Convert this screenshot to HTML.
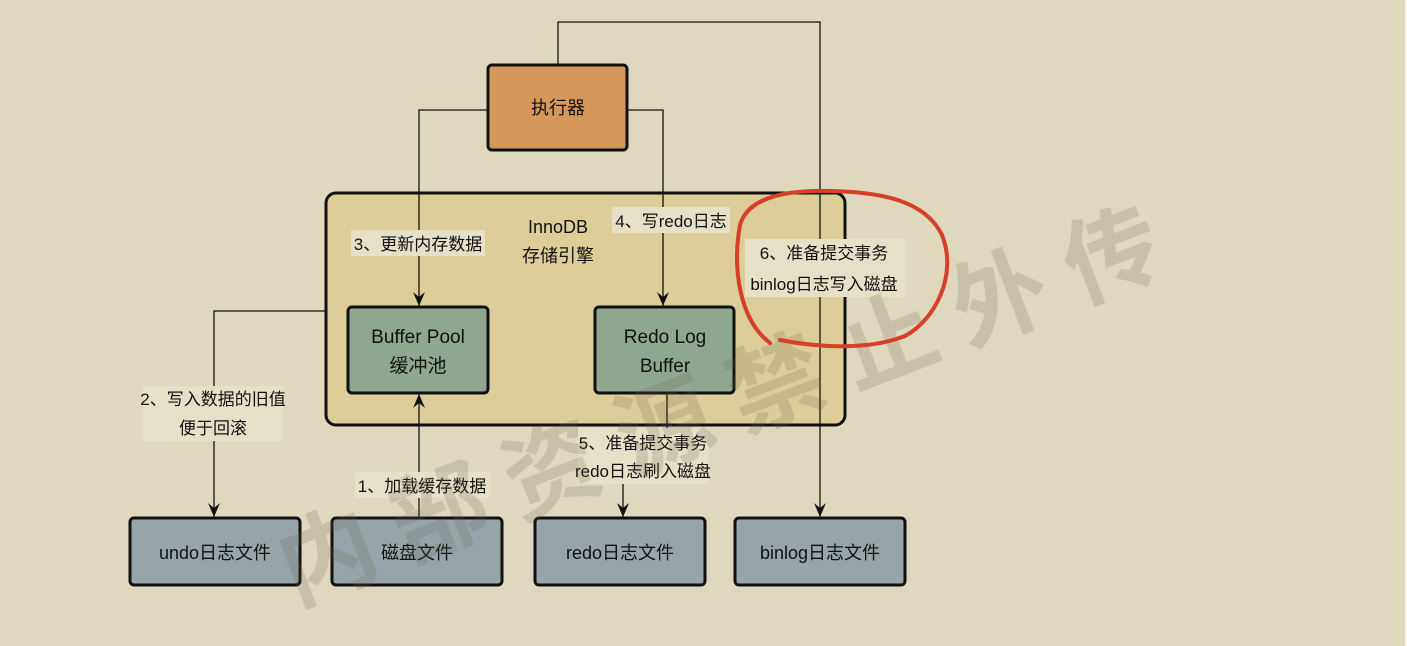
<!DOCTYPE html>
<html><head><meta charset="utf-8"><style>
html,body{margin:0;padding:0;background:#dfd7be;}
svg{display:block;}
text{font-family:"Liberation Sans","Noto Sans CJK SC",sans-serif;fill:#111;}
</style></head><body>
<svg width="1407" height="646" viewBox="0 0 1407 646" xmlns="http://www.w3.org/2000/svg">
<defs>
<marker id="a" markerWidth="14" markerHeight="12" refX="14" refY="6" orient="auto" markerUnits="userSpaceOnUse" viewBox="0 0 14 12">
<path d="M0,0 L14,6 L0,12 L5,6 Z" fill="#111"/>
</marker>
</defs>
<rect width="1407" height="646" fill="#dfd7be"/>

<!-- InnoDB -->
<rect x="326" y="193" width="519" height="232" rx="10" fill="#ddcd98" stroke="#111" stroke-width="3"/>
<text x="558" y="233" font-size="18" text-anchor="middle">InnoDB</text>
<text x="558" y="262" font-size="18" text-anchor="middle">存储引擎</text>

<!-- lines -->
<g stroke="#111" stroke-width="1.3" fill="none">
<polyline points="488,110 419,110 419,306" marker-end="url(#a)"/>
<polyline points="627,110 663,110 663,306" marker-end="url(#a)"/>
<polyline points="558,65 558,22 820,22 820,517" marker-end="url(#a)"/>
<polyline points="326,311 214,311 214,517" marker-end="url(#a)"/>
<line x1="419" y1="518" x2="419" y2="394" marker-end="url(#a)"/>
<line x1="667" y1="393" x2="667" y2="432"/>
<line x1="623" y1="484" x2="623" y2="517" marker-end="url(#a)"/>
</g>

<!-- executor -->
<rect x="488" y="65" width="139" height="85" rx="4" fill="#d5985a" stroke="#111" stroke-width="3"/>
<text x="558" y="114" font-size="18" text-anchor="middle">执行器</text>

<!-- inner boxes -->
<rect x="348" y="307" width="140" height="86" rx="4" fill="#8fa790" stroke="#111" stroke-width="3"/>
<text x="418" y="343" font-size="19" text-anchor="middle">Buffer Pool</text>
<text x="418" y="372" font-size="19" text-anchor="middle">缓冲池</text>
<rect x="595" y="307" width="139" height="86" rx="4" fill="#8fa790" stroke="#111" stroke-width="3"/>
<text x="665" y="343" font-size="19" text-anchor="middle">Redo Log</text>
<text x="665" y="372" font-size="19" text-anchor="middle">Buffer</text>

<!-- bottom boxes -->
<g fill="#97a5aa" stroke="#111" stroke-width="3">
<rect x="130" y="518" width="170" height="67" rx="4"/>
<rect x="332" y="518" width="170" height="67" rx="4"/>
<rect x="535" y="518" width="170" height="67" rx="4"/>
<rect x="735" y="518" width="170" height="67" rx="4"/>
</g>
<g font-size="18" text-anchor="middle">
<text x="215" y="559">undo日志文件</text>
<text x="417" y="559">磁盘文件</text>
<text x="620" y="559">redo日志文件</text>
<text x="820" y="559">binlog日志文件</text>
</g>

<!-- labels -->
<g fill="#e7e0c9">
<rect x="351" y="230" width="134" height="26"/>
<rect x="612" y="207" width="118" height="26"/>
<rect x="745" y="239" width="160" height="58"/>
<rect x="143" y="386" width="140" height="55"/>
<rect x="355" y="472" width="135" height="26"/>
<rect x="578" y="428" width="130" height="56"/>
</g>
<g font-size="17" text-anchor="middle">
<text x="418" y="250">3、更新内存数据</text>
<text x="671" y="227">4、写redo日志</text>
<text x="824" y="259">6、准备提交事务</text>
<text x="824" y="290">binlog日志写入磁盘</text>
<text x="213" y="405">2、写入数据的旧值</text>
<text x="213" y="434">便于回滚</text>
<text x="422" y="492">1、加载缓存数据</text>
<text x="643" y="449">5、准备提交事务</text>
<text x="643" y="477">redo日志刷入磁盘</text>
</g>

<!-- watermark (overlay) -->
<text x="0" y="0" transform="translate(295,605) rotate(-21)" font-size="96" letter-spacing="24" style="fill:rgba(110,100,80,0.2);font-family:'Noto Sans CJK SC',sans-serif;font-weight:bold">内部资源禁止外传</text>

<!-- red circle -->
<path d="M770,343 C740,320 732,270 740,225 C748,196 790,190 830,191 C880,192 925,200 942,235 C958,275 935,320 905,336 C870,350 820,348 780,340" fill="none" stroke="#d6402a" stroke-width="4" stroke-linecap="round"/>
<rect x="1405" y="0" width="2" height="646" fill="#f4f1ea"/>
</svg>
</body></html>
